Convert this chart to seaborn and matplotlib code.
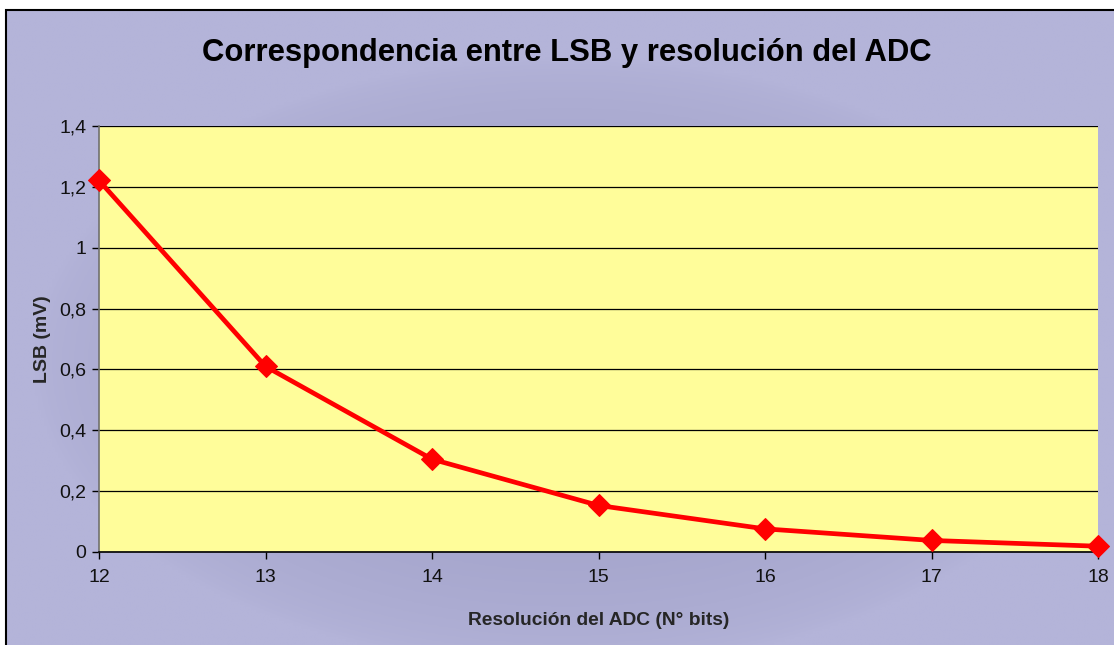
import numpy as np
import pandas as pd
import matplotlib
matplotlib.use("Agg")
import matplotlib.pyplot as plt
from matplotlib.ticker import FuncFormatter, MultipleLocator
from matplotlib.patches import Rectangle
import seaborn as sns

# data
bits = [12, 13, 14, 15, 16, 17, 18]
lsb_mv = [1.221, 0.610, 0.305, 0.153, 0.076, 0.038, 0.019]

title = "Correspondencia entre LSB y resolución del ADC"
x_label = "Resolución del ADC (N° bits)"
y_label = "LSB (mV)"

df = pd.DataFrame({"bits": bits, "lsb": lsb_mv})

sns.set_theme(style="white")
plt.rcParams["font.family"] = ["Liberation Sans", "DejaVu Sans"]

W, H = 1114, 645
fig = plt.figure(figsize=(W / 100, H / 100), dpi=100)
fig.patch.set_facecolor("white")

# lavender background with a darker centre (Excel style gradient)
bg = fig.add_axes([0, 0, 1, 1], zorder=-2)
gx, gy = np.meshgrid(np.linspace(-1, 1, 400), np.linspace(-1, 1, 240))
r = np.clip(np.sqrt((gx / 0.95) ** 2 + ((gy - 0.1) / 0.95) ** 2), 0, 1)
edge = np.array([180, 180, 217]) / 255
centre = np.array([156, 156, 196]) / 255
t = np.clip(1 - r, 0, 1) ** 0.6
img = edge[None, None, :] * (1 - t[..., None]) + centre[None, None, :] * t[..., None]
bg.imshow(img, extent=[6 / W, 1.01, -0.01, 1 - 10 / H], aspect="auto",
          transform=bg.transAxes, zorder=0)
bg.add_patch(Rectangle((6 / W, -0.01), 1.1, 1 - 10 / H + 0.01, transform=bg.transAxes,
                       fill=False, edgecolor="black", lw=1.5, zorder=1))
bg.set_xlim(0, 1)
bg.set_ylim(0, 1)
bg.axis("off")

ax = fig.add_axes([99 / W, (H - 552) / H, (1098 - 99) / W, (552 - 126) / H])
ax.set_facecolor("#FFFD9A")

sns.lineplot(data=df, x="bits", y="lsb", ax=ax, color="#FF0000", lw=3.4,
             marker="D", markersize=11, markeredgecolor="#FF0000", clip_on=False, zorder=5)

ax.set_xlim(12, 18)
ax.set_ylim(0, 1.4)
ax.yaxis.set_major_locator(MultipleLocator(0.2))
ax.xaxis.set_major_locator(MultipleLocator(1))
ax.yaxis.set_major_formatter(FuncFormatter(lambda v, p: f"{v:g}".replace(".", ",")))
ax.grid(axis="y", color="black", lw=0.9)
ax.grid(axis="x", visible=False)

for s in ["top", "right"]:
    ax.spines[s].set_visible(False)
ax.spines["left"].set_color("#707070")
ax.spines["left"].set_linewidth(1.2)
ax.spines["bottom"].set_color("black")
ax.spines["bottom"].set_linewidth(1.2)

ax.tick_params(axis="both", direction="out", length=5, width=1, color="black",
               labelsize=14, labelcolor="#111111", left=True, bottom=True)
ax.tick_params(axis="x", pad=7)
ax.tick_params(axis="y", pad=4)

ax.set_xlabel(x_label, fontsize=13.8, fontweight="bold", labelpad=19)
ax.set_ylabel(y_label, fontsize=14, fontweight="bold", labelpad=6)

fig.text(567 / W, 1 - 53 / H, title, ha="center", va="center",
         fontsize=22.3, fontweight="bold", color="black")

fig.savefig("out.png", dpi=100)
